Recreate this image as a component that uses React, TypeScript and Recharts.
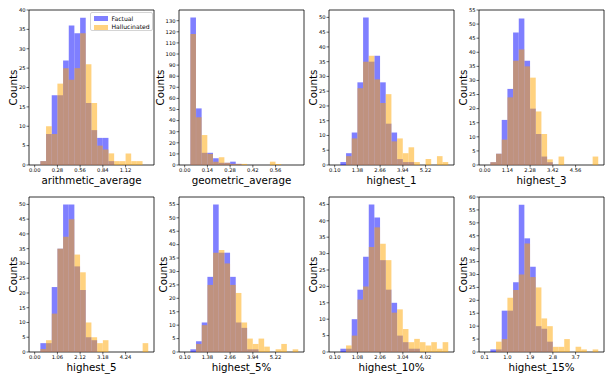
import React from "react";
import { BarChart, Bar, XAxis, YAxis, ReferenceArea, Legend } from "recharts";

const FONT = "'DejaVu Sans', sans-serif";

const metricNames = [
  "arithmetic_average",
  "geometric_average",
  "highest_1",
  "highest_3",
  "highest_5",
  "highest_5%",
  "highest_10%",
  "highest_15%",
];

// first bin edge and bin width of each histogram (20 bins)
const binStart = [0, 0, 0.1, 0, 0, 0.1, 0.1, 0.1];
const binWidth = [0.07, 0.035, 0.32, 0.285, 0.265, 0.32, 0.245, 0.225];

const factual1 = [0, 1, 8, 18, 18, 27, 36, 34, 38, 16, 9, 7, 7, 1, 0, 0, 0, 0, 0, 0];
const hallucinated1 = [0, 1, 10, 8, 21, 25, 22, 25, 34, 26, 16, 5, 4, 3, 1, 1, 3, 1, 1, 0];
const factual2 = [0, 133, 51, 11, 11, 6, 2, 2, 3, 1, 0, 0, 0, 0, 0, 0, 0, 0, 0, 0];
const hallucinated2 = [0, 118, 43, 27, 10, 3, 7, 2, 1, 1, 1, 0, 0, 0, 0, 3, 1, 0, 0, 0];
const factual3 = [0, 1, 4, 11, 28, 50, 35, 37, 28, 14, 11, 2, 1, 1, 0, 0, 0, 0, 0, 0];
const hallucinated3 = [0, 0, 3, 9, 26, 35, 37, 29, 21, 24, 8, 9, 4, 6, 1, 0, 2, 0, 3, 1];
const factual4 = [0, 1, 4, 16, 27, 47, 52, 37, 20, 11, 3, 1, 0, 0, 0, 0, 0, 0, 0, 0];
const hallucinated4 = [0, 1, 4, 9, 24, 37, 41, 35, 31, 19, 11, 2, 0, 3, 0, 0, 0, 0, 0, 3];
const factual5 = [0, 3, 3, 22, 35, 50, 50, 29, 21, 5, 4, 0, 0, 0, 0, 0, 0, 0, 0, 0];
const hallucinated5 = [0, 1, 4, 13, 35, 39, 45, 33, 27, 10, 5, 3, 4, 0, 0, 0, 0, 0, 0, 3];
const factual6 = [0, 1, 4, 11, 28, 55, 37, 37, 28, 11, 9, 1, 1, 0, 0, 0, 0, 0, 0, 0];
const hallucinated6 = [0, 0, 3, 10, 25, 37, 38, 33, 25, 22, 11, 5, 3, 5, 2, 0, 1, 3, 0, 1];
const factual7 = [0, 1, 1, 10, 19, 29, 45, 41, 28, 19, 15, 5, 3, 1, 1, 0, 0, 0, 0, 0];
const hallucinated7 = [0, 0, 2, 5, 16, 20, 32, 38, 33, 28, 12, 13, 7, 3, 4, 3, 2, 3, 1, 3];
const factual8 = [0, 1, 1, 16, 16, 27, 57, 44, 33, 10, 9, 4, 0, 0, 0, 0, 0, 0, 0, 0];
const hallucinated8 = [0, 0, 4, 5, 21, 24, 30, 42, 29, 25, 13, 10, 2, 2, 5, 0, 2, 1, 0, 1];

const factualCounts = [factual1, factual2, factual3, factual4, factual5, factual6, factual7, factual8];
const hallucinatedCounts = [
  hallucinated1, hallucinated2, hallucinated3, hallucinated4,
  hallucinated5, hallucinated6, hallucinated7, hallucinated8,
];

const xTickLabels = [
  ["0.00", "0.28", "0.56", "0.84", "1.12"],
  ["0.00", "0.14", "0.28", "0.42", "0.56"],
  ["0.10", "1.38", "2.66", "3.94", "5.22"],
  ["0.00", "1.14", "2.28", "3.42", "4.56"],
  ["0.00", "1.06", "2.12", "3.18", "4.24"],
  ["0.10", "1.38", "2.66", "3.94", "5.22"],
  ["0.10", "1.08", "2.06", "3.04", "4.02"],
  ["0.1", "1.0", "1.9", "2.8", "3.7"],
];

const yTicks = [
  [0, 5, 10, 15, 20, 25, 30, 35, 40],
  [0, 10, 20, 30, 40, 50, 60, 70, 80, 90, 100, 110, 120, 130],
  [0, 5, 10, 15, 20, 25, 30, 35, 40, 45, 50],
  [0, 5, 10, 15, 20, 25, 30, 35, 40, 45, 50, 55],
  [0, 5, 10, 15, 20, 25, 30, 35, 40, 45, 50],
  [0, 5, 10, 15, 20, 25, 30, 35, 40, 45, 50, 55],
  [0, 5, 10, 15, 20, 25, 30, 35, 40, 45],
  [0, 5, 10, 15, 20, 25, 30, 35, 40, 45, 50, 55, 60],
];

const CHART_W = 156;
const CHART_H = 187;
const PLOT_LEFT = 29;
const PLOT_TOP = 10;
const PLOT_W = 125;
const PLOT_H = 155;

const tickStyle = { fontSize: 5.2, fill: "#000", fontFamily: FONT };
const tickLineStyle = { stroke: "#000", strokeWidth: 0.6 };

const LegendBox = ({ payload }: any) => (
  <div
    style={{
      width: 63,
      height: 19,
      boxSizing: "border-box",
      border: "0.8px solid #d4d4d4",
      borderRadius: 2,
      background: "rgba(255,255,255,0.8)",
      fontFamily: FONT,
      fontSize: 6.1,
      color: "#000",
      padding: "1.5px 0 0 2.5px",
    }}
  >
    {(payload || []).map((p: any) => (
      <div key={p.value} style={{ display: "flex", alignItems: "center", height: 8.5 }}>
        <span
          style={{ display: "inline-block", width: 14, height: 4.7, background: p.color, opacity: 0.5, marginRight: 4 }}
        />
        <span style={{ lineHeight: "8px" }}>{p.value}</span>
      </div>
    ))}
  </div>
);

const Panel = ({ i }: { i: number }) => {
  const x0 = binStart[i];
  const w = binWidth[i];
  const f = factualCounts[i];
  const h = hallucinatedCounts[i];
  const data = f.map((v, k) => ({ bin: x0 + (k + 0.5) * w, factual: v, hallucinated: h[k] }));
  const xDomain = [x0 - w, x0 + 21 * w];
  const xVals = xTickLabels[i].map(Number);
  const yt = yTicks[i];
  const yTop = Math.max(1.05 * Math.max(...f, ...h), yt[yt.length - 1]);
  const threeDigits = String(yt[yt.length - 1]).length > 2;
  const ylx = threeDigits ? 14 : 16.5;
  const ylY = PLOT_TOP + PLOT_H / 2;

  return (
    <BarChart
      width={CHART_W}
      height={CHART_H}
      data={data}
      margin={{ top: PLOT_TOP, right: CHART_W - PLOT_LEFT - PLOT_W, bottom: 0, left: 0 }}
      barGap={0}
      barCategoryGap={0}
    >
      <XAxis
        xAxisId="f"
        type="number"
        dataKey="bin"
        domain={xDomain}
        allowDataOverflow
        ticks={xVals}
        interval={0}
        tickFormatter={(v: number) => xTickLabels[i][xVals.indexOf(v)] ?? String(v)}
        height={CHART_H - PLOT_TOP - PLOT_H}
        axisLine={false}
        tickSize={2.5}
        tickMargin={1}
        tick={tickStyle}
        tickLine={tickLineStyle}
        label={{
          content: () => (
            <text
              x={PLOT_LEFT + PLOT_W / 2}
              y={PLOT_TOP + PLOT_H + 19}
              textAnchor="middle"
              fontSize={10.3}
              fontFamily={FONT}
              fill="#000"
            >
              {metricNames[i]}
            </text>
          ),
        }}
      />
      <XAxis xAxisId="h" type="number" dataKey="bin" domain={xDomain} allowDataOverflow hide />
      <YAxis
        type="number"
        domain={[0, yTop]}
        allowDataOverflow
        ticks={yt}
        interval={0}
        width={PLOT_LEFT}
        axisLine={false}
        tickSize={2.5}
        tickMargin={1}
        tick={tickStyle}
        tickLine={tickLineStyle}
        label={{
          content: () => (
            <text
              x={ylx}
              y={ylY}
              transform={`rotate(-90 ${ylx} ${ylY})`}
              textAnchor="middle"
              fontSize={10.3}
              fontFamily={FONT}
              fill="#000"
            >
              Counts
            </text>
          ),
        }}
      />
      <Bar
        xAxisId="f"
        dataKey="factual"
        name="Factual"
        fill="#0000ff"
        fillOpacity={0.5}
        barSize={5.6}
        isAnimationActive={false}
      />
      <Bar
        xAxisId="h"
        dataKey="hallucinated"
        name="Hallucinated"
        fill="#ffa500"
        fillOpacity={0.5}
        barSize={5.6}
        isAnimationActive={false}
      />
      <ReferenceArea
        xAxisId="f"
        x1={xDomain[0]}
        x2={xDomain[1]}
        y1={0}
        y2={yTop}
        fill="none"
        fillOpacity={0}
        stroke="#000"
        strokeWidth={0.8}
        ifOverflow="visible"
      />
      {i === 0 && (
        <Legend
          layout="vertical"
          align="center"
          verticalAlign="middle"
          content={<LegendBox />}
          wrapperStyle={{ left: 90, top: 12, width: 63, height: 19 }}
        />
      )}
    </BarChart>
  );
};

export default function App() {
  return (
    <div
      style={{
        position: "absolute",
        left: 0,
        top: 0,
        width: 606,
        height: 375,
        background: "#fff",
        fontFamily: FONT,
        overflow: "hidden",
      }}
    >
      {metricNames.map((name, i) => (
        <div
          key={name}
          style={{ position: "absolute", left: (i % 4) * 150, top: Math.floor(i / 4) * 187 }}
        >
          <Panel i={i} />
        </div>
      ))}
    </div>
  );
}
